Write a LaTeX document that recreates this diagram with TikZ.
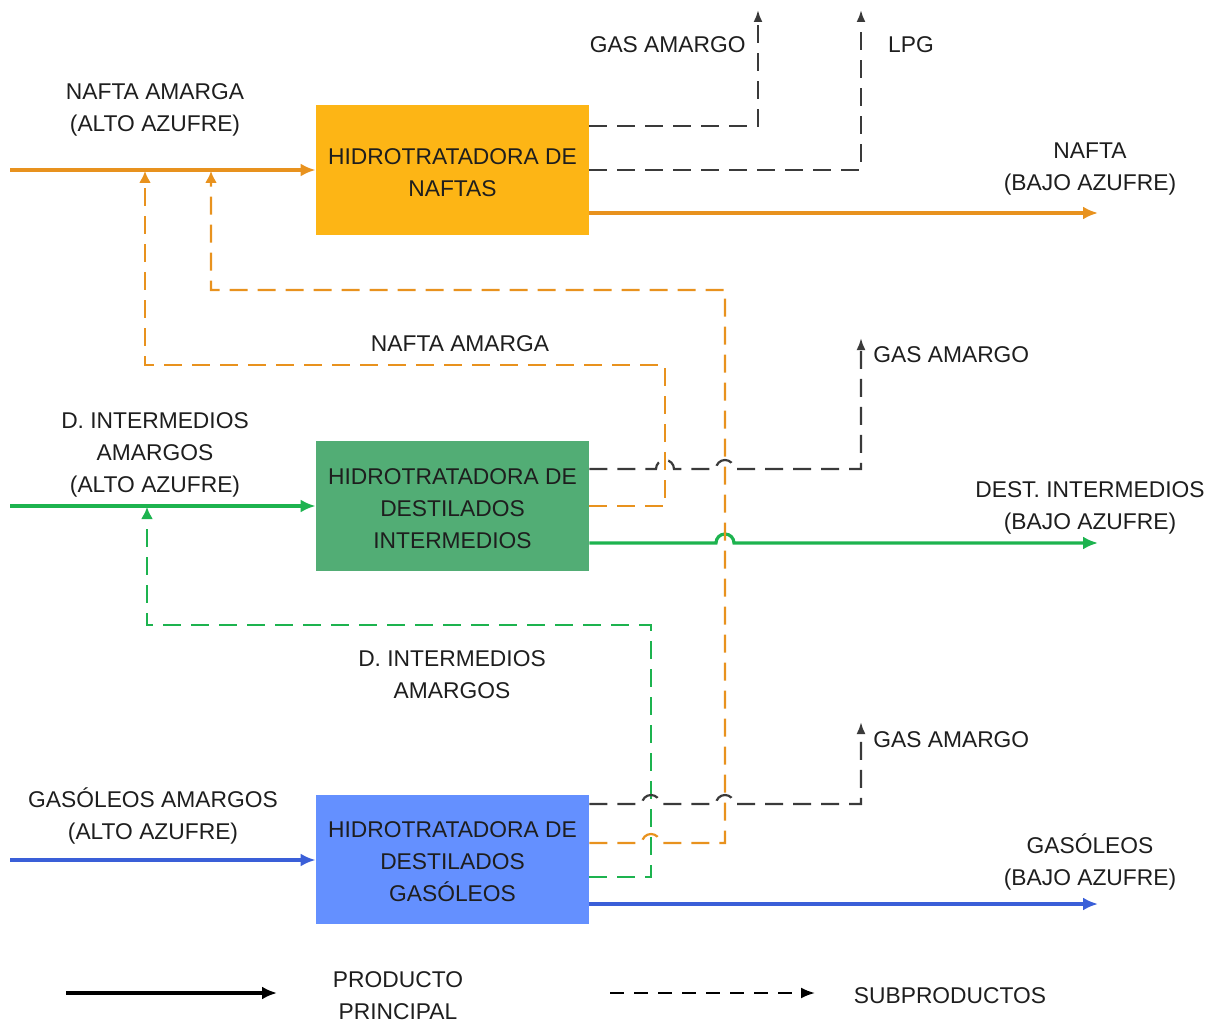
\documentclass[tikz,border=0pt]{standalone}
\usepackage{fontspec}
\setmainfont{Liberation Sans}
\usetikzlibrary{arrows.meta,calc}
\definecolor{boxorange}{HTML}{FDB515}
\definecolor{lineorange}{HTML}{E8921E}
\definecolor{boxgreen}{HTML}{52AD75}
\definecolor{linegreen}{HTML}{1DB34F}
\definecolor{boxblue}{HTML}{6490FF}
\definecolor{lineblue}{HTML}{3A5FD8}
\definecolor{gasgray}{HTML}{3A3A3A}
\definecolor{txt}{HTML}{1E1E1E}
\newcommand\lblfont{\fontsize{11.4pt}{16pt}\selectfont}
% horizontal line hop: bridge over a crossing at x = #1 (radius 9 units)
\newcommand\hopat[2]{-- (#1-9,#2) arc[start angle=180,end angle=0,radius=4.5pt]}
\begin{document}
\begin{tikzpicture}[x=0.5pt,y=-0.5pt,
  unit/.style={minimum width=136.5pt, minimum height=65pt, inner sep=0pt},
  lbl/.style={align=center, font=\lblfont, text=txt, inner sep=0pt, yshift=-1.25pt},
  main/.style={line width=1.6pt, -{Latex[length=7.5pt,width=6.5pt]}},
  sub/.style={line width=1.1pt, dash pattern=on 9pt off 5pt},
  subtip/.style={-{Latex[length=6pt,width=4.5pt]}},
  rec/.style={line width=1.1pt, dash pattern=on 9pt off 5pt, -{Latex[length=6pt,width=6pt]}}]
\useasboundingbox (0,0) rectangle (1217,1022);

% process units
\node[unit, fill=boxorange] (b1) at (452.5,170) {};
\node[unit, fill=boxgreen] (b2) at (452.5,506) {};
\node[unit, fill=boxblue, minimum height=64.5pt] (b3) at (452.5,859.5) {};
\node[lbl] (t1) at (b1.center) {HIDROTRATADORA DE\\NAFTAS};
\node[lbl] (t2) at (b2.center) {HIDROTRATADORA DE\\DESTILADOS\\INTERMEDIOS};
\node[lbl] (t3) at (b3.center) {HIDROTRATADORA DE\\DESTILADOS\\GASÓLEOS};

% free ends
\coordinate (in1) at (10,170);
\coordinate (in2) at (10,506);
\coordinate (in3) at (10,860);
\coordinate (out1) at (1098,213);
\coordinate (out2) at (1098,543);
\coordinate (out3) at (1098,904);
\coordinate (gas1) at (758,10);
\coordinate (lpg) at (861,10);
\coordinate (gas2) at (861,338);
\coordinate (gas3) at (861,722);
\coordinate (rn1) at (145,171);
\coordinate (rn2) at (211,171);
\coordinate (rd) at (147,507);

% main feeds and products
\draw[main, draw=lineorange] (in1) -- (b1.west);
\draw[main, draw=linegreen] (in2) -- (b2.west);
\draw[main, draw=lineblue] (in3) -- (b3.west |- in3);
\draw[main, draw=lineorange] (b1.east |- out1) -- (out1);
\draw[main, draw=linegreen] (b2.east |- out2) \hopat{725}{543} -- (out2);
\draw[main, draw=lineblue] (b3.east |- out3) -- (out3);

% recycle streams
\draw[rec, draw=lineorange] (b2.east |- 0,506) -- (665,506) -- (665,365) -- (145,365) -- (rn1);
\draw[rec, draw=lineorange] (b3.east |- 0,843) \hopat{651}{843} -- (725,843) -- (725,290) -- (211,290) -- (rn2);
\draw[rec, draw=linegreen] (b3.east |- 0,877) -- (651,877) -- (651,625) -- (147,625) -- (rd);

% by-products
\draw[sub, subtip, draw=gasgray] (b1.east |- 0,126) -- (758,126) -- (gas1);
\draw[sub, subtip, draw=gasgray] (b1.east) -- (861,170) -- (lpg);
\draw[sub, subtip, draw=gasgray] (b2.east |- 0,469) \hopat{665}{469} \hopat{725}{469} -- (861,469) -- (gas2);
\draw[sub, subtip, draw=gasgray] (b3.east |- 0,804) \hopat{651}{804} \hopat{725}{804} -- (861,804) -- (gas3);

% labels
\node[lbl] (l1) at (155,107) {NAFTA AMARGA\\(ALTO AZUFRE)};
\node[lbl] (l2) at (155,452) {D. INTERMEDIOS\\AMARGOS\\(ALTO AZUFRE)};
\node[lbl] (l3) at (153,813) {GASÓLEOS AMARGOS\\(ALTO AZUFRE)};
\node[lbl, anchor=east] (l4) at (746,42) {GAS AMARGO};
\node[lbl] (l5) at (911,42) {LPG};
\node[lbl] (l6) at (1090,167) {NAFTA\\(BAJO AZUFRE)};
\node[lbl] (l7) at (460,341) {NAFTA AMARGA};
\node[lbl, anchor=west] (l8) at (873,352) {GAS AMARGO};
\node[lbl] (l9) at (1090,505) {DEST. INTERMEDIOS\\(BAJO AZUFRE)};
\node[lbl] (l10) at (452,672) {D. INTERMEDIOS\\AMARGOS};
\node[lbl, anchor=west] (l11) at (873,737) {GAS AMARGO};
\node[lbl] (l12) at (1090,859) {GASÓLEOS\\(BAJO AZUFRE)};

% legend
\coordinate (k1a) at (66,993);
\coordinate (k1b) at (277,993);
\coordinate (k2a) at (610,993);
\coordinate (k2b) at (815,993);
\draw[main, draw=black] (k1a) -- (k1b);
\draw[line width=1.1pt, dash pattern=on 7pt off 5pt, -{Latex[length=7pt,width=5.5pt]}, draw=black] (k2a) -- (k2b);
\node[lbl] (k1t) at (398,993) {PRODUCTO\\PRINCIPAL};
\node[lbl] (k2t) at (950,993) {SUBPRODUCTOS};
\end{tikzpicture}
\end{document}
